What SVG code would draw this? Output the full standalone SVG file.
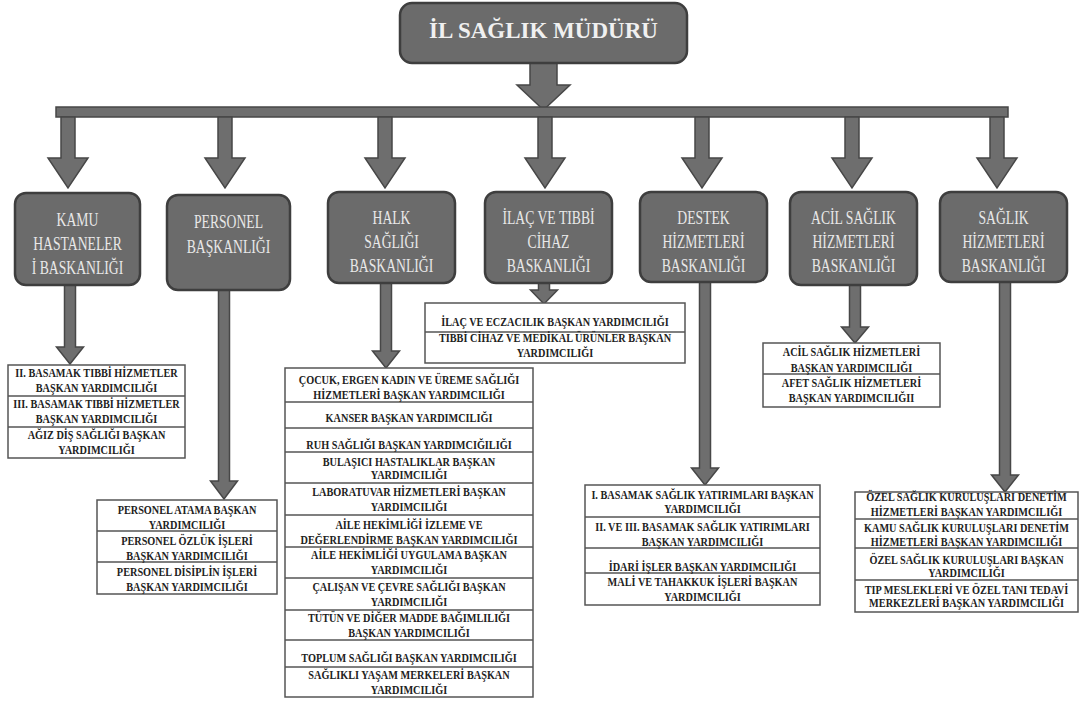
<svg xmlns="http://www.w3.org/2000/svg" width="1090" height="702" viewBox="0 0 1090 702">
<style>
.bg{fill:#ffffff}
.dept{fill:#6b6b6b;stroke:#3e3e3e;stroke-width:2.5}
.top{fill:#6b6b6b;stroke:#3e3e3e;stroke-width:2.5}
.arr{fill:#6e6e6e;stroke:#474747;stroke-width:1.5;stroke-linejoin:miter}
.list{fill:#ffffff;stroke:#555555;stroke-width:1.5}
.div{stroke:#555555;stroke-width:1.5;fill:none}
.title{font-family:"Liberation Serif",serif;font-weight:bold;font-size:23px;fill:#f0f0f0;text-anchor:middle}
.dt{font-family:"Liberation Serif",serif;font-size:19px;fill:#e8e8e8;text-anchor:middle}
.lt{font-family:"Liberation Serif",serif;font-weight:bold;font-size:13px;fill:#222222;text-anchor:middle}
</style>
<rect class="bg" x="0" y="0" width="1090" height="702"/>

<g id="connectors">
  <polygon class="arr" points="530,63 557,63 557,85 570,85 543.5,110 517,85 530,85"/>
  <rect class="arr" x="56" y="107" width="952" height="10"/>
  <polygon class="arr" points="61,117 75,117 75,158 88,158 68,188 48,158 61,158"/>
  <polygon class="arr" points="218,117 232,117 232,158 245,158 225,188 205,158 218,158"/>
  <polygon class="arr" points="378,117 392,117 392,158 405,158 385,188 365,158 378,158"/>
  <polygon class="arr" points="538,117 552,117 552,158 565,158 545,188 525,158 538,158"/>
  <polygon class="arr" points="695,117 709,117 709,158 722,158 702,188 682,158 695,158"/>
  <polygon class="arr" points="845,117 859,117 859,158 872,158 852,188 832,158 845,158"/>
  <polygon class="arr" points="990,117 1004,117 1004,158 1017,158 997,188 977,158 990,158"/>
  <polygon class="arr" points="64.5,285 75.5,285 75.5,347 83.5,347 70,364 56.5,347 64.5,347"/>
  <polygon class="arr" points="218.5,290 229.5,290 229.5,481 237.5,481 224,499 210.5,481 218.5,481"/>
  <polygon class="arr" points="380.5,283 391.5,283 391.5,351 399.5,351 386,368 372.5,351 380.5,351"/>
  <polygon class="arr" points="538.5,283 549.5,283 549.5,290 557.5,290 544,304 530.5,290 538.5,290"/>
  <polygon class="arr" points="699.5,282 710.5,282 710.5,468 718.5,468 705,485 691.5,468 699.5,468"/>
  <polygon class="arr" points="849.5,285 860.5,285 860.5,327 868.5,327 855,343 841.5,327 849.5,327"/>
  <polygon class="arr" points="999.5,282 1010.5,282 1010.5,475 1018.5,475 1005,492 991.5,475 999.5,475"/>
</g>

<g id="mudur">
  <rect class="top" x="400" y="3" width="287" height="60" rx="12"/>
  <text class="title" x="543.5" y="38">İL SAĞLIK MÜDÜRÜ</text>
</g>

<g id="kamu">
  <rect class="dept" x="15" y="193" width="125" height="92" rx="11"/>
  <g transform="translate(77.5,0) scale(0.72,1)">
    <text class="dt" x="0" y="226">KAMU</text>
    <text class="dt" x="0" y="250">HASTANELER</text>
    <text class="dt" x="0" y="274">İ BASKANLIĞI</text>
  </g>
</g>
<g id="personel">
  <rect class="dept" x="167" y="195" width="123" height="95" rx="11"/>
  <g transform="translate(228.5,0) scale(0.72,1)">
    <text class="dt" x="0" y="228">PERSONEL</text>
    <text class="dt" x="0" y="253">BAŞKANLIĞI</text>
  </g>
</g>
<g id="halk">
  <rect class="dept" x="328" y="192" width="127" height="91" rx="11"/>
  <g transform="translate(391.5,0) scale(0.72,1)">
    <text class="dt" x="0" y="224">HALK</text>
    <text class="dt" x="0" y="248">SAĞLIĞI</text>
    <text class="dt" x="0" y="272">BASKANLIĞI</text>
  </g>
</g>
<g id="ilac">
  <rect class="dept" x="485" y="192" width="127" height="91" rx="11"/>
  <g transform="translate(548.5,0) scale(0.72,1)">
    <text class="dt" x="0" y="224">İLAÇ VE TIBBİ</text>
    <text class="dt" x="0" y="248">CİHAZ</text>
    <text class="dt" x="0" y="272">BASKANLIĞI</text>
  </g>
</g>
<g id="destek">
  <rect class="dept" x="640" y="192" width="127" height="90" rx="11"/>
  <g transform="translate(703.5,0) scale(0.72,1)">
    <text class="dt" x="0" y="224">DESTEK</text>
    <text class="dt" x="0" y="248">HİZMETLERİ</text>
    <text class="dt" x="0" y="272">BASKANLIĞI</text>
  </g>
</g>
<g id="acil">
  <rect class="dept" x="790" y="192" width="127" height="93" rx="11"/>
  <g transform="translate(853.5,0) scale(0.72,1)">
    <text class="dt" x="0" y="224">ACİL SAĞLIK</text>
    <text class="dt" x="0" y="248">HİZMETLERİ</text>
    <text class="dt" x="0" y="272">BASKANLIĞI</text>
  </g>
</g>
<g id="saglik">
  <rect class="dept" x="940" y="192" width="127" height="90" rx="11"/>
  <g transform="translate(1003.5,0) scale(0.72,1)">
    <text class="dt" x="0" y="224">SAĞLIK</text>
    <text class="dt" x="0" y="248">HİZMETLERİ</text>
    <text class="dt" x="0" y="272">BASKANLIĞI</text>
  </g>
</g>

<g id="kamu-list">
  <rect class="list" x="8" y="365" width="177" height="93"/>
  <path class="div" d="M8,396H185M8,427H185"/>
  <g transform="translate(96.5,0) scale(0.79,1)">
    <text class="lt" x="0" y="377.5">II. BASAMAK TIBBİ HİZMETLER</text>
    <text class="lt" x="0" y="392.5">BAŞKAN YARDIMCILIĞI</text>
    <text class="lt" x="0" y="408.5">III. BASAMAK TIBBİ HİZMETLER</text>
    <text class="lt" x="0" y="423.5">BAŞKAN YARDIMCILIĞI</text>
    <text class="lt" x="0" y="439.5">AĞIZ DİŞ SAĞLIĞI BAŞKAN</text>
    <text class="lt" x="0" y="454.5">YARDIMCILIĞI</text>
  </g>
</g>

<g id="personel-list">
  <rect class="list" x="97" y="500" width="180" height="94"/>
  <path class="div" d="M97,531H277M97,562H277"/>
  <g transform="translate(187,0) scale(0.79,1)">
    <text class="lt" x="0" y="514.5">PERSONEL ATAMA BAŞKAN</text>
    <text class="lt" x="0" y="529">YARDIMCILIĞI</text>
    <text class="lt" x="0" y="545">PERSONEL ÖZLÜK İŞLERİ</text>
    <text class="lt" x="0" y="560">BAŞKAN YARDIMCILIĞI</text>
    <text class="lt" x="0" y="576">PERSONEL DİSİPLİN  İŞLERİ</text>
    <text class="lt" x="0" y="591">BAŞKAN YARDIMCILIĞI</text>
  </g>
</g>

<g id="halk-list">
  <rect class="list" x="285" y="368" width="248" height="329"/>
  <path class="div" d="M285,402H533M285,428H533M285,452H533M285,483H533M285,515H533M285,547H533M285,578H533M285,610H533M285,640H533M285,667H533"/>
  <g transform="translate(409,0) scale(0.79,1)">
    <text class="lt" x="0" y="384.5">ÇOCUK, ERGEN KADIN VE ÜREME SAĞLIĞI</text>
    <text class="lt" x="0" y="399.5">HİZMETLERİ BAŞKAN YARDIMCILIĞI</text>
    <text class="lt" x="0" y="422.5">KANSER BAŞKAN YARDIMCILIĞI</text>
    <text class="lt" x="0" y="449.5">RUH SAĞLIĞI BAŞKAN YARDIMCIĞILIĞI</text>
    <text class="lt" x="0" y="466.5">BULAŞICI HASTALIKLAR BAŞKAN</text>
    <text class="lt" x="0" y="479.5">YARDIMCILIĞI</text>
    <text class="lt" x="0" y="496.5">LABORATUVAR HİZMETLERİ BAŞKAN</text>
    <text class="lt" x="0" y="511.5">YARDIMCILIĞI</text>
    <text class="lt" x="0" y="529.5">AİLE HEKİMLİĞİ İZLEME VE</text>
    <text class="lt" x="0" y="544.5">DEĞERLENDİRME BAŞKAN YARDIMCILIĞI</text>
    <text class="lt" x="0" y="559.5">AİLE HEKİMLİĞİ UYGULAMA BAŞKAN</text>
    <text class="lt" x="0" y="574.5">YARDIMCILIĞI</text>
    <text class="lt" x="0" y="591.5">ÇALIŞAN VE ÇEVRE SAĞLIĞI  BAŞKAN</text>
    <text class="lt" x="0" y="606.5">YARDIMCILIĞI</text>
    <text class="lt" x="0" y="622.5">TÜTÜN VE DİĞER MADDE BAĞIMLILIĞI</text>
    <text class="lt" x="0" y="637.5">BAŞKAN YARDIMCILIĞI</text>
    <text class="lt" x="0" y="662.5">TOPLUM SAĞLIĞI BAŞKAN YARDIMCILIĞI</text>
    <text class="lt" x="0" y="679.5">SAĞLIKLI YAŞAM MERKELERİ BAŞKAN</text>
    <text class="lt" x="0" y="694.5">YARDIMCILIĞI</text>
  </g>
</g>

<g id="ilac-list">
  <rect class="list" x="425" y="303" width="260" height="60"/>
  <path class="div" d="M425,332H685"/>
  <g transform="translate(555,0) scale(0.79,1)">
    <text class="lt" x="0" y="326.5">İLAÇ VE ECZACILIK BAŞKAN YARDIMCILIĞI</text>
    <text class="lt" x="0" y="342.5">TIBBİ CİHAZ VE MEDİKAL ÜRÜNLER BAŞKAN</text>
    <text class="lt" x="0" y="357.5">YARDIMCILIĞI</text>
  </g>
</g>

<g id="destek-list">
  <rect class="list" x="585" y="485" width="235" height="120"/>
  <path class="div" d="M585,517H820M585,548H820M585,573H820"/>
  <g transform="translate(702.5,0) scale(0.79,1)">
    <text class="lt" x="0" y="499.5">I. BASAMAK SAĞLIK YATIRIMLARI BAŞKAN</text>
    <text class="lt" x="0" y="513.5">YARDIMCILIĞI</text>
    <text class="lt" x="0" y="531.5">II. VE III. BASAMAK SAĞLIK YATIRIMLARI</text>
    <text class="lt" x="0" y="546.5">BAŞKAN YARDIMCILIĞI</text>
    <text class="lt" x="0" y="571.5">İDARİ İŞLER BAŞKAN YARDIMCILIĞI</text>
    <text class="lt" x="0" y="586.5">MALİ VE TAHAKKUK İŞLERİ  BAŞKAN</text>
    <text class="lt" x="0" y="601.5">YARDIMCILIĞI</text>
  </g>
</g>

<g id="acil-list">
  <rect class="list" x="763" y="343" width="177" height="64"/>
  <path class="div" d="M763,374H940"/>
  <g transform="translate(851.5,0) scale(0.79,1)">
    <text class="lt" x="0" y="356.5">ACİL SAĞLIK HİZMETLERİ</text>
    <text class="lt" x="0" y="372">BAŞKAN YARDIMCILIĞI</text>
    <text class="lt" x="0" y="387.5">AFET SAĞLIK HİZMETLERİ</text>
    <text class="lt" x="0" y="402.5">BAŞKAN YARDIMCILIĞII</text>
  </g>
</g>

<g id="saglik-list">
  <rect class="list" x="855" y="492" width="223" height="120"/>
  <path class="div" d="M855,519H1078M855,548H1078M855,580H1078"/>
  <g transform="translate(966.5,0) scale(0.79,1)">
    <text class="lt" x="0" y="501.5">ÖZEL SAĞLIK KURULUŞLARI DENETİM</text>
    <text class="lt" x="0" y="516.5">HİZMETLERİ BAŞKAN YARDIMCILIĞI</text>
    <text class="lt" x="0" y="532.5">KAMU SAĞLIK KURULUŞLARI DENETİM</text>
    <text class="lt" x="0" y="546.5">HİZMETLERİ BAŞKAN YARDIMCILIĞI</text>
    <text class="lt" x="0" y="564.5">ÖZEL SAĞLIK KURULUŞLARI  BAŞKAN</text>
    <text class="lt" x="0" y="577.5">YARDIMCILIĞI</text>
    <text class="lt" x="0" y="594.5">TIP MESLEKLERİ VE ÖZEL TANI TEDAVİ</text>
    <text class="lt" x="0" y="607.5">MERKEZLERİ BAŞKAN YARDIMCILIĞI</text>
  </g>
</g>
</svg>
